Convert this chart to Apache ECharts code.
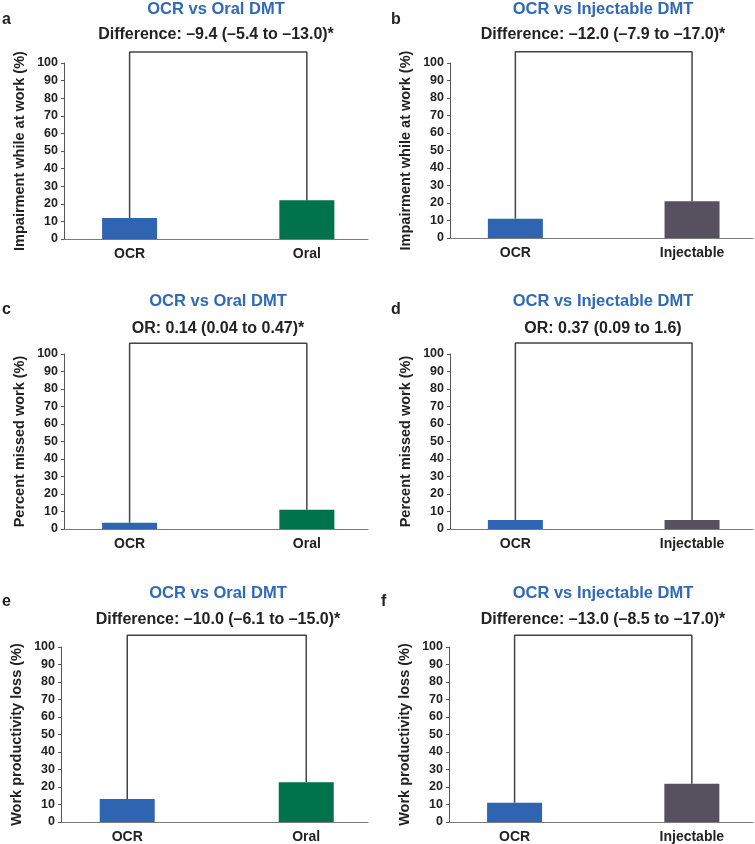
<!DOCTYPE html>
<html>
<head>
<meta charset="utf-8">
<style>
html,body{margin:0;padding:0;background:#fff;}
#chart{width:755px;height:844px;}
</style>
<script src="https://cdn.jsdelivr.net/npm/echarts@6/dist/echarts.min.js"></script>
</head>
<body>
<div id="chart"></div>
<script>
// ---- Data ----
var panelLetters = ['a', 'b', 'c', 'd', 'e', 'f'];
var panelTitles = ['OCR vs Oral DMT', 'OCR vs Injectable DMT', 'OCR vs Oral DMT', 'OCR vs Injectable DMT', 'OCR vs Oral DMT', 'OCR vs Injectable DMT'];
var panelStats = [
  'Difference: \u20139.4 (\u20135.4 to \u201313.0)*',
  'Difference: \u201312.0 (\u20137.9 to \u201317.0)*',
  'OR: 0.14 (0.04 to 0.47)*',
  'OR: 0.37 (0.09 to 1.6)',
  'Difference: \u201310.0 (\u20136.1 to \u201315.0)*',
  'Difference: \u201313.0 (\u20138.5 to \u201317.0)*'
];
var yAxisNames = ['Impairment while at work (%)', 'Impairment while at work (%)', 'Percent missed work (%)', 'Percent missed work (%)', 'Work productivity loss (%)', 'Work productivity loss (%)'];
var catsOral = ['OCR', 'Oral'];
var catsInj = ['OCR', 'Injectable'];
var ocrValues = [12, 11, 3.6, 5.1, 13.1, 11];
var comparatorValues = [22, 21, 11, 5.1, 22.7, 21.9];
var bracketTops = [106.3, 106.5, 106.2, 106.3, 106.7, 106.7];
var yTicks = { min: 0, max: 100, interval: 10 };

// ---- Layout / style ----
var FONT = 'Liberation Sans, Arial, sans-serif';
var BLUE = '#2f64b2', GREEN = '#00724c', GREY = '#57505f';
// x axis span in category-index units (bars sit at 0 and 1, off-centre as in the original)
var X_MIN = -0.37, X_MAX = 1.345;
var layout = [
  { left: 64,  top: 63,  width: 304, height: 176, cx: 216, titleTop: 1,   subTop: 27,  letterX: 2,   letterTop: 12 },
  { left: 450, top: 63,  width: 303, height: 175, cx: 603, titleTop: 1,   subTop: 27,  letterX: 391, letterTop: 12 },
  { left: 64,  top: 354, width: 304, height: 175, cx: 218, titleTop: 293, subTop: 321, letterX: 2,   letterTop: 302 },
  { left: 450, top: 354, width: 303, height: 175, cx: 603, titleTop: 293, subTop: 321, letterX: 391, letterTop: 302 },
  { left: 61,  top: 647, width: 307, height: 175, cx: 218, titleTop: 585, subTop: 612, letterX: 2,   letterTop: 594 },
  { left: 449, top: 647, width: 304, height: 175, cx: 603, titleTop: 585, subTop: 612, letterX: 381, letterTop: 594 }
];

var grids = [], xAxes = [], yAxes = [], series = [], titles = [];
for (var i = 0; i < 6; i++) {
  var L = layout[i];
  var cats = (i % 2 === 0) ? catsOral : catsInj;
  var compColor = (i % 2 === 0) ? GREEN : GREY;
  grids.push({ left: L.left, top: L.top, width: L.width, height: L.height, containLabel: false });
  xAxes.push({
    type: 'value', gridIndex: i, min: X_MIN, max: X_MAX,
    splitLine: { show: false },
    axisLine: { show: true, onZero: false, lineStyle: { color: '#7a7a7a', width: 1.2 } },
    axisTick: { show: false },
    axisLabel: {
      customValues: [0, 1],
      formatter: (function (c) { return function (v) { return c[Math.round(v)]; }; })(cats),
      color: '#222', fontFamily: FONT, fontWeight: 'bold', fontSize: 14, margin: 8
    }
  });
  yAxes.push({
    type: 'value', gridIndex: i, min: yTicks.min, max: yTicks.max, interval: yTicks.interval,
    name: yAxisNames[i], nameLocation: 'middle', nameGap: 37,
    nameTextStyle: { color: '#222', fontFamily: FONT, fontWeight: 'bold', fontSize: 14.5 },
    axisLine: { show: true, onZero: false, lineStyle: { color: '#555', width: 1 } },
    axisTick: { show: true, length: 3, lineStyle: { color: '#555' } },
    splitLine: { show: false },
    axisLabel: { color: '#222', fontFamily: FONT, fontWeight: 'bold', fontSize: 12.5, margin: 6 }
  });
  series.push({
    type: 'bar', xAxisIndex: i, yAxisIndex: i, barWidth: 55, z: 3,
    data: [
      { value: [0, ocrValues[i]], itemStyle: { color: BLUE } },
      { value: [1, comparatorValues[i]], itemStyle: { color: compColor } }
    ],
    silent: true
  });
  series.push({
    type: 'line', xAxisIndex: i, yAxisIndex: i, clip: false, symbol: 'none', z: 2,
    lineStyle: { color: '#444', width: 1.5 },
    data: [[0, ocrValues[i]], [0, bracketTops[i]], [1, bracketTops[i]], [1, comparatorValues[i]]],
    silent: true, animation: false
  });
  titles.push({
    text: panelTitles[i], left: L.cx, top: L.titleTop, textAlign: 'center', padding: 0,
    textStyle: { color: '#3069b6', fontFamily: FONT, fontWeight: 'bold', fontSize: 16.5 }
  });
  titles.push({
    text: panelStats[i], left: L.cx, top: L.subTop, textAlign: 'center', padding: 0,
    textStyle: { color: '#222', fontFamily: FONT, fontWeight: 'bold', fontSize: 16 }
  });
  titles.push({
    text: panelLetters[i], left: L.letterX, top: L.letterTop, padding: 0,
    textStyle: { color: '#222', fontFamily: FONT, fontWeight: 'bold', fontSize: 16 }
  });
}

var chart = echarts.init(document.getElementById('chart'), null, { renderer: 'canvas' });
chart.setOption({
  animation: false,
  backgroundColor: '#ffffff',
  title: titles,
  grid: grids,
  xAxis: xAxes,
  yAxis: yAxes,
  series: series
});
</script>
</body>
</html>
